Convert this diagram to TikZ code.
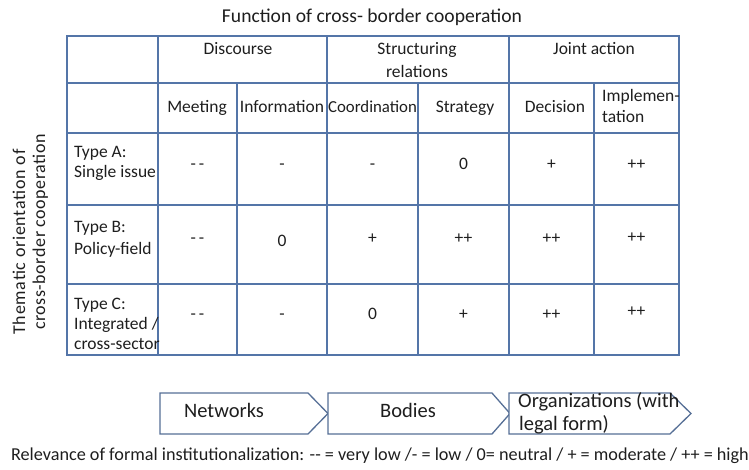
\documentclass[tikz,border=0pt]{standalone}
\usepackage{fontspec}
\setmainfont{Carlito}
\newfontfamily\spaceA[LetterSpace=4]{Carlito}
\newfontfamily\spaceB[LetterSpace=3]{Carlito}
\definecolor{gridc}{HTML}{5475A8}
\definecolor{arrowc}{HTML}{566F96}
\definecolor{txt}{HTML}{1E1E1E}
\begin{document}
\begin{tikzpicture}[x=1pt,y=-1pt,
  every node/.style={font=\fontsize{17.5}{20}\selectfont, text=txt, inner sep=0pt, text height=12pt, text depth=4pt},
  thinline/.style={draw=gridc, line width=1.7pt},
  thickline/.style={draw=gridc, line width=2.9pt},
  lbl/.style={anchor=west},
  chevtext/.style={font=\fontsize{20.5}{23}\selectfont},
  chevron/.style={draw=arrowc, line width=1.3pt, fill=white}]
\useasboundingbox (0,0) rectangle (749,469);
% grid
\foreach \y in {83,133,205,284} \draw[thinline] (67,\y) -- (679,\y);
\foreach \x in {237,418,594} \draw[thinline] (\x,83) -- (\x,355);
\foreach \x in {158,327,509} \draw[thickline] (\x,36) -- (\x,355);
\draw[thinline, line width=2.1pt] (67,36) rectangle (679,355);
% title
\node[font=\fontsize{19.6}{22}\selectfont] (title) at (372,18) {Function of cross- border cooperation};
% header row 1
\node (discourse) at (238,50) {Discourse};
\node (struct1) at (417,50) {Structuring};
\node (struct2) at (417,73) {relations};
\node (joint) at (594,50) {Joint action};
% header row 2
\node (meeting) at (197,108) {Meeting};
\node (information) at (282,108) {Information};
\node[font=\fontsize{16.8}{20}\selectfont] (coordination) at (372.5,108) {Coordination};
\node (strategy) at (465,108) {Strategy};
\node (decision) at (555,108) {Decision};
\node[lbl] (impl1) at (602,97) {Implemen-};
\node[lbl] (impl2) at (602,118) {tation};
% row labels
\node[lbl] (ta1) at (74,153) {Type A:};
\node[lbl] (ta2) at (74,173) {Single issue};
\node[lbl] (tb1) at (74,228) {Type B:};
\node[lbl] (tb2) at (74,250) {Policy-field};
\node[lbl] (tc1) at (74,305) {Type C:};
\node[lbl] (tc2) at (74,325) {Integrated /};
\node[lbl] (tc3) at (74,345) {cross-sector};
% values row A
\node (a1) at (197.5,165) {-\,-};
\node (a2) at (282,165) {-};
\node (a3) at (372.5,165) {-};
\node (a4) at (463.5,165) {0};
\node (a5) at (551.5,165) {+};
\node (a6) at (636.5,165) {++};
% values row B
\node (b1) at (197.5,239) {-\,-};
\node (b2) at (282,242) {0};
\node (b3) at (372.5,239) {+};
\node (b4) at (463.5,239) {++};
\node (b5) at (551.5,239) {++};
\node (b6) at (636.5,238) {++};
% values row C
\node (c1) at (197.5,315) {-\,-};
\node (c2) at (282,315) {-};
\node (c3) at (372.5,315) {0};
\node (c4) at (463.5,315) {+};
\node (c5) at (551.5,315) {++};
\node (c6) at (636.5,312) {++};
% vertical label
\node[rotate=90, font=\fontsize{18}{20}\selectfont] (vl1) at (21,242) {\spaceA Thematic orientation of};
\node[rotate=90, font=\fontsize{18}{20}\selectfont] (vl2) at (41,232) {\spaceB cross-border cooperation};
% chevrons
\draw[chevron] (160,393) -- (308,393) -- (328,413.5) -- (308,434) -- (160,434) -- cycle;
\draw[chevron] (328,393) -- (492,393) -- (510,413.5) -- (492,434) -- (328,434) -- cycle;
\draw[chevron] (509,393) -- (670,393) -- (691,413.5) -- (670,434) -- (509,434) -- cycle;
\node[chevtext] (networks) at (224,413) {Networks};
\node[chevtext] (bodies) at (408,413) {Bodies};
\node[chevtext, lbl] (org1) at (518,403) {Organizations (with};
\node[chevtext, lbl] (org2) at (519,426) {legal form)};
% legend
\node[font=\fontsize{18.2}{21}\selectfont] (legend) at (380,456) {Relevance of formal institutionalization: -{}- = very low /- = low / 0= neutral / + = moderate / ++ = high};
\end{tikzpicture}
\end{document}
